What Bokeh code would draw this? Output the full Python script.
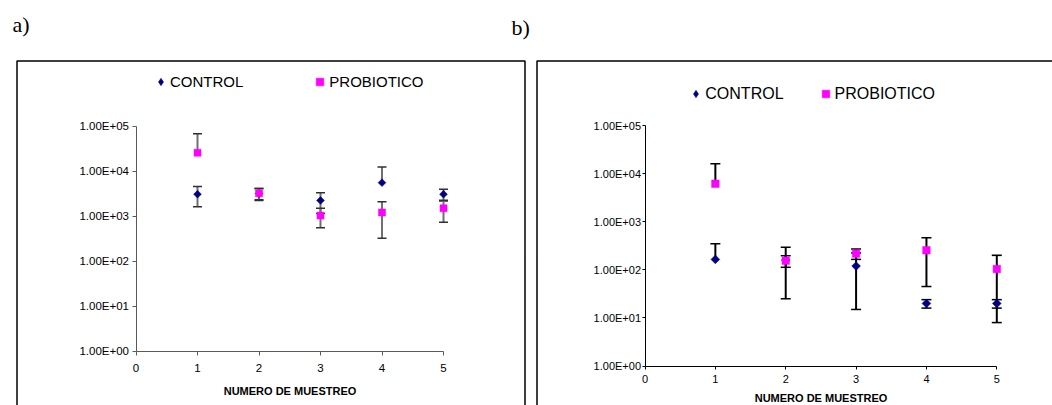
import math

from bokeh.embed import file_html
from bokeh.models import (ColumnDataSource, FixedTicker, Grid, Label, Legend, LegendItem,
                          LinearAxis, LogAxis, LogScale, Range1d, TeeHead, Whisker)
from bokeh.plotting import figure
from bokeh.resources import INLINE

# ---------------------------------------------------------------- data
samples = [1, 2, 3, 4, 5]
x_ticks = [0, 1, 2, 3, 4, 5]
y_ticks = [1, 10, 100, 1000, 10000, 100000]
y_tick_labels = ["1.00E+00", "1.00E+01", "1.00E+02", "1.00E+03", "1.00E+04", "1.00E+05"]
series_names = ["CONTROL", "PROBIOTICO"]
x_title = "NUMERO DE MUESTREO"
panel_tags = ["a)", "b)"]

# panel a)
control_a = [3050, 3150, 2220, 5500, 3050]
control_a_err = [1450, 950, 1080, 6800, 900]
probiotico_a = [25500, 3200, 1020, 1200, 1480]
probiotico_a_err = [42000, 900, 470, 880, 750]

# panel b)
control_b = [165, 160, 120, 20, 20]
control_b_err = [185, 135, 105, 4, 4]
probiotico_b = [6200, 155, 218, 255, 104]
probiotico_b_err = [9900, 42, 53, 210, 96]

# ---------------------------------------------------------------- layout
W, H = 1052, 405
NAVY = "#000080"
MAGENTA = "#FF00FF"
FONT = "Liberation Sans"

p = figure(width=W, height=H, x_range=Range1d(0, W), y_range=Range1d(H, 0),
           x_axis_location=None, y_axis_location=None, toolbar_location=None,
           output_backend="svg", min_border=0, title=None)
p.outline_line_color = None
p.background_fill_color = "white"
p.border_fill_color = "white"
p.center = [r for r in p.center if not isinstance(r, Grid)]


def add_panel(name, x0_px, px_per_unit, y0_px, px_per_decade):
    """Register the ranges of one panel: x=0 sits at x0_px, y=1 at y0_px."""
    p.extra_x_ranges[name] = Range1d(-x0_px / px_per_unit, (W - x0_px) / px_per_unit)
    p.extra_y_ranges[name] = Range1d(10 ** ((y0_px - H) / px_per_decade),
                                     10 ** (y0_px / px_per_decade))
    p.extra_y_scales[name] = LogScale()


p.extra_x_ranges = {}
p.extra_y_ranges = {}
p.extra_y_scales = {}
add_panel("a", 135.5, 61.5, 350.5, 45.0)
add_panel("b", 644.5, 70.36, 365.5, 48.08)


def add_axes(name, color, tick_size, y_standoff, tick_out, x_tick_standoff, title_standoff):
    xaxis = LinearAxis(x_range_name=name, y_range_name=name, fixed_location=1,
                       bounds=(0, 5), ticker=FixedTicker(ticks=x_ticks, minor_ticks=[]))
    yaxis = LogAxis(x_range_name=name, y_range_name=name, fixed_location=0,
                    bounds=(1, 100000), ticker=FixedTicker(ticks=y_ticks, minor_ticks=[]))
    yaxis.major_label_overrides = dict(zip(y_ticks, y_tick_labels))
    for ax in (xaxis, yaxis):
        ax.axis_line_color = color
        ax.axis_line_width = 1
        ax.major_tick_line_color = color
        ax.major_tick_in = 0
        ax.major_tick_out = tick_out
        ax.minor_tick_line_color = None
        ax.major_label_text_font = FONT
        ax.major_label_text_font_size = tick_size
        ax.major_label_text_color = "black"
    yaxis.major_label_standoff = y_standoff
    xaxis.major_label_standoff = x_tick_standoff
    xaxis.axis_label = x_title
    xaxis.axis_label_text_font = FONT
    xaxis.axis_label_text_font_style = "bold"
    xaxis.axis_label_text_font_size = "11px"
    xaxis.axis_label_text_color = "black"
    xaxis.axis_label_standoff = title_standoff
    p.add_layout(xaxis, "below")
    p.add_layout(yaxis, "left")


add_axes("a", "#5a5a5a", "11.5px", 3, 4, 9, 9)
add_axes("b", "black", "11px", 1, 3, 6, 5)


def error_bars(name, values, errors, stem_color, stem_width, cap_color, cap_size):
    top = ColumnDataSource(dict(x=samples, mid=values,
                                hi=[v + e for v, e in zip(values, errors)]))
    p.add_layout(Whisker(base="x", lower="mid", upper="hi", source=top,
                         dimension="height", x_range_name=name, y_range_name=name,
                         line_color=stem_color, line_width=stem_width, level="underlay",
                         lower_head=None,
                         upper_head=TeeHead(size=cap_size, line_color=cap_color,
                                            line_width=1.5)))
    keep = [i for i, (v, e) in enumerate(zip(values, errors)) if v - e > 0]
    bottom = ColumnDataSource(dict(x=[samples[i] for i in keep],
                                   mid=[values[i] for i in keep],
                                   lo=[values[i] - errors[i] for i in keep]))
    p.add_layout(Whisker(base="x", lower="lo", upper="mid", source=bottom,
                         dimension="height", x_range_name=name, y_range_name=name,
                         line_color=stem_color, line_width=stem_width, level="underlay",
                         upper_head=None,
                         lower_head=TeeHead(size=cap_size, line_color=cap_color,
                                            line_width=1.5)))


def points(name, control, probiotico, diamond_size, square_size):
    rc = p.scatter(x=samples, y=control, marker="square", angle=math.pi / 4,
                   size=diamond_size, fill_color=NAVY, line_color=NAVY, line_width=0.5,
                   x_range_name=name, y_range_name=name)
    rp = p.scatter(x=samples, y=probiotico, marker="square", size=square_size,
                   fill_color=MAGENTA, line_color=MAGENTA, line_width=0.5,
                   x_range_name=name, y_range_name=name)
    return rc, rp


# panel a)
error_bars("a", control_a, control_a_err, "#707070", 2, "#303030", 9)
error_bars("a", probiotico_a, probiotico_a_err, "#707070", 2, "#303030", 9)
rca, rpa = points("a", control_a, probiotico_a, 5.5, 7)

# panel b)
error_bars("b", control_b, control_b_err, "black", 2, "black", 10)
error_bars("b", probiotico_b, probiotico_b_err, "black", 2, "black", 10)
rcb, rpb = points("b", control_b, probiotico_b, 6.2, 7.5)


def add_legend(name, control, rp, location, font_size, spacing):
    # hidden diamond renderer that only supplies the legend swatch
    # (legend glyphs ignore the marker angle used on the plotted points)
    swatch = p.scatter(x=samples, y=control, marker="diamond", fill_color=NAVY,
                       line_color=NAVY, line_width=0.5, visible=False,
                       x_range_name=name, y_range_name=name)
    leg = Legend(items=[LegendItem(label=series_names[0], renderers=[swatch]),
                        LegendItem(label=series_names[1], renderers=[rp])],
                 location=location, orientation="horizontal",
                 glyph_width=19, glyph_height=19, label_height=19, label_standoff=0,
                 spacing=spacing, padding=0, margin=0, inactive_fill_alpha=0,
                 border_line_color=None, background_fill_alpha=0,
                 label_text_font=FONT, label_text_font_size=font_size,
                 label_text_color="black")
    p.add_layout(leg)


add_legend("a", control_a, rpa, (151, 314.5), "15px", 67)
add_legend("b", control_b, rpb, (686.3, 301.8), "16px", 32)

# panel frames (open at the bottom edge of the page)
p.multi_line(xs=[[16.5, 16.5, 524.5, 524.5], [536.5, 536.5, 1060]],
             ys=[[420, 60.5, 60.5, 420], [420, 60.5, 60.5]],
             line_color="black", line_width=1.5)

# panel tags
for tag, (tx, ty) in zip(panel_tags, [(12, 11), (511, 14.5)]):
    p.add_layout(Label(x=tx, y=ty, text=tag, text_font="Liberation Serif",
                       text_font_size="22px", text_color="black",
                       text_baseline="top", text_align="left"))

open("out.html", "w").write(file_html(p, INLINE))
